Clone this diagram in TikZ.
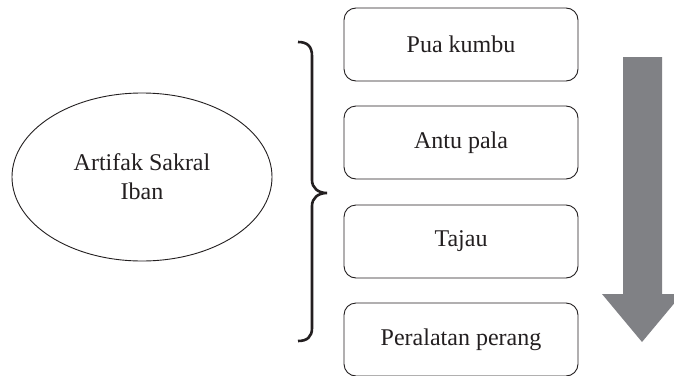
\documentclass[tikz,border=0pt]{standalone}
\usepackage{fontspec}
\setmainfont{Liberation Serif}
\definecolor{arrowgray}{RGB}{128,129,133}
\definecolor{linegray}{RGB}{35,31,32}
\tikzset{
  itembox/.style={draw=linegray, line width=0.9pt, rounded corners=12pt, minimum width=234pt, minimum height=73pt, inner sep=0pt, text=linegray, font=\fontsize{24}{29}\selectfont},
  oval/.style={draw=linegray, line width=0.9pt, ellipse, minimum width=260pt, minimum height=168pt, inner sep=0pt, align=center, text=linegray, font=\fontsize{24}{29}\selectfont}
}
\usetikzlibrary{shapes.geometric}
\begin{document}
\begin{tikzpicture}[x=1pt,y=-1pt]
\clip (0,0) rectangle (674,375);
\fill[white] (0,0) rectangle (674,375);
\node[oval] (main) at (142,177) {Artifak Sakral\\Iban};
\node[itembox] (b1) at (461,44.5) {Pua kumbu};
\node[itembox] (b2) at (461,142.5) {Antu pala};
\node[itembox] (b3) at (461,241.5) {Tajau};
\node[itembox] (b4) at (461,339.5) {Peralatan perang};
\draw[line width=2.6pt, linegray] (298,42) .. controls (307,42) and (312,46) .. (312,56) -- (312,180) .. controls (312,188) and (318,193) .. (327,193) .. controls (318,193) and (312,198) .. (312,206) -- (312,328) .. controls (312,337) and (307,341) .. (298,341);
\fill[arrowgray] (623,57) -- (662,57) -- (662,294) -- (682,294) -- (642,342) -- (602,294) -- (623,294) -- cycle;
\end{tikzpicture}
\end{document}
